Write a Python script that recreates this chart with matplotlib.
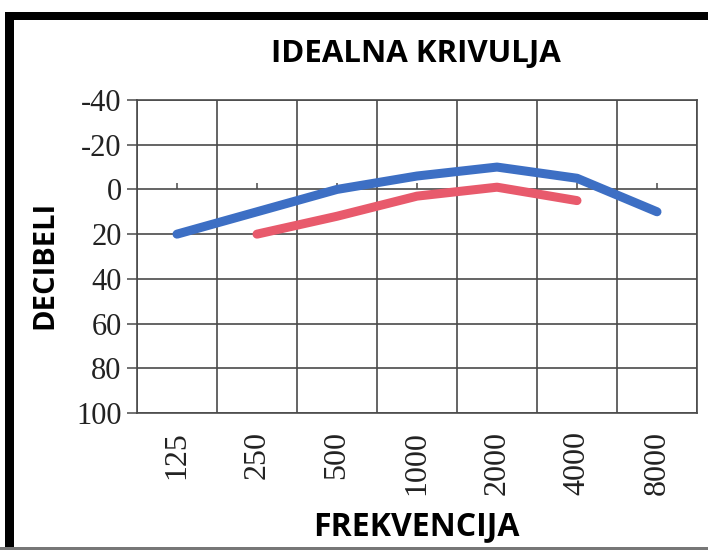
import matplotlib.pyplot as plt
import numpy as np
from matplotlib.patches import Rectangle

# data
frequencies = ["125", "250", "500", "1000", "2000", "4000", "8000"]
blue_db = [20, 10, 0, -6, -10, -5, 10]
red_db = [np.nan, 20, 12, 3, -1, 5, np.nan]
y_ticks = [-40, -20, 0, 20, 40, 60, 80, 100]

title = "IDEALNA KRIVULJA"
x_label = "FREKVENCIJA"
y_label = "DECIBELI"

W, H = 708, 550
fig = plt.figure(figsize=(W / 100, H / 100), dpi=100)
fig.patch.set_facecolor("white")

# the thick frame round the picture
fig.patches.append(Rectangle((5 / W, 0), 9 / W, (H - 12) / H, transform=fig.transFigure,
                             facecolor="black", edgecolor="none"))
fig.patches.append(Rectangle((5 / W, 1 - 20 / H), 1, 8 / H, transform=fig.transFigure,
                             facecolor="black", edgecolor="none"))
fig.patches.append(Rectangle((0, 0), 1, 3 / H, transform=fig.transFigure,
                             facecolor="#777777", edgecolor="none"))

ax = fig.add_axes((137 / W, 1 - 413 / H, (697 - 137) / W, (413 - 100) / H))

x = np.arange(len(frequencies))
ax.plot(x, blue_db, color="#3d6fc4", lw=6.5, solid_capstyle="round", solid_joinstyle="round", zorder=3)
ax.plot(x, red_db, color="#e85a6c", lw=6.5, solid_capstyle="round", solid_joinstyle="round", zorder=3)

ax.set_xlim(-0.5, len(frequencies) - 0.5)
ax.set_ylim(100, -40)

grid_color = "#4a4a4a"
ax.set_yticks(y_ticks)
ax.set_yticklabels([str(v) for v in y_ticks], family="Liberation Serif", fontsize=22, color="#222222")
ax.set_xticks(x)
ax.set_xticklabels(frequencies, rotation=90, family="Liberation Serif", fontsize=23, color="#222222")
ax.tick_params(axis="x", length=0, pad=13)
ax.tick_params(axis="y", length=7, width=1.1, color=grid_color, pad=4)

# grid: horizontal lines at each y tick, vertical lines between categories
for v in y_ticks:
    ax.axhline(v, color=grid_color, lw=1.2, zorder=1)
for b in np.arange(-0.5, len(frequencies), 1.0):
    ax.axvline(b, color=grid_color, lw=1.2, zorder=1)
# small tick marks on the zero line
ax.vlines(x, 0, -2.8, color=grid_color, lw=1.1, zorder=1)

for s in ax.spines.values():
    s.set_color(grid_color)
    s.set_linewidth(1.2)

fig.text(416 / W, 1 - 54 / H, title, ha="center", va="center",
         family="Open Sans", fontweight="bold", fontsize=22.5)
fig.text(416 / W, 1 - 527 / H, x_label, ha="center", va="center",
         family="Open Sans", fontweight="bold", fontsize=23)
fig.text(45 / W, 1 - 265 / H, y_label, ha="center", va="center", rotation=90,
         family="Open Sans", fontweight="bold", fontsize=21)

fig.savefig("out.png", dpi=100)
